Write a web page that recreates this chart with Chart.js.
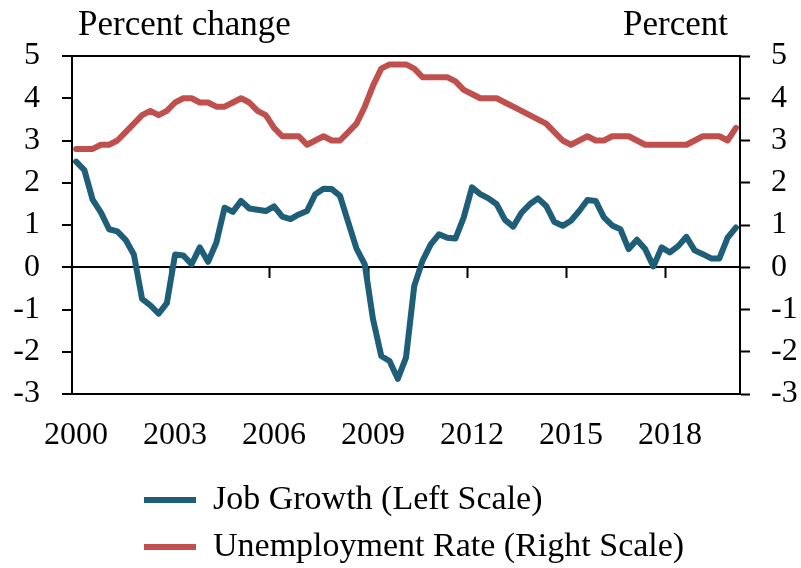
<!DOCTYPE html>
<html>
<head>
<meta charset="utf-8">
<script src="https://cdn.jsdelivr.net/npm/chart.js@4"></script>
<style>
  body { margin: 0; background: #fff; }
</style>
</head>
<body>
<canvas id="chart" width="801" height="568"></canvas>
<script>
// quarterly, 2000 Q1 .. 2020 Q1
const startYear = 2000;
const quarterCount = 81;

const jobGrowth = [
  2.5, 2.3, 1.6, 1.3, 0.9, 0.85, 0.65, 0.3, -0.75, -0.9,
  -1.1, -0.85, 0.3, 0.28, 0.07, 0.47, 0.13, 0.58, 1.41, 1.31,
  1.57, 1.39, 1.36, 1.33, 1.44, 1.2, 1.14, 1.25, 1.33, 1.73,
  1.86, 1.85, 1.69, 1.06, 0.44, 0.07, -1.23, -2.1, -2.22, -2.64,
  -2.14, -0.44, 0.15, 0.54, 0.78, 0.7, 0.68, 1.18, 1.89, 1.73,
  1.63, 1.49, 1.12, 0.96, 1.29, 1.49, 1.63, 1.45, 1.07, 0.98,
  1.1, 1.33, 1.59, 1.57, 1.18, 0.99, 0.9, 0.43, 0.65, 0.43,
  0.02, 0.47, 0.35, 0.5, 0.72, 0.4, 0.31, 0.21, 0.21, 0.7,
  0.94
];

const unemployment = [
  2.8, 2.8, 2.8, 2.9, 2.9, 3.0, 3.2, 3.4, 3.6, 3.7,
  3.6, 3.7, 3.9, 4.0, 4.0, 3.9, 3.9, 3.8, 3.8, 3.9,
  4.0, 3.9, 3.7, 3.6, 3.3, 3.1, 3.1, 3.1, 2.9, 3.0,
  3.1, 3.0, 3.0, 3.2, 3.4, 3.8, 4.3, 4.7, 4.8, 4.8,
  4.8, 4.7, 4.5, 4.5, 4.5, 4.5, 4.4, 4.2, 4.1, 4.0,
  4.0, 4.0, 3.9, 3.8, 3.7, 3.6, 3.5, 3.4, 3.2, 3.0,
  2.9, 3.0, 3.1, 3.0, 3.0, 3.1, 3.1, 3.1, 3.0, 2.9,
  2.9, 2.9, 2.9, 2.9, 2.9, 3.0, 3.1, 3.1, 3.1, 3.0,
  3.3
];

const leftTitle = 'Percent change';
const rightTitle = 'Percent';
const yMin = -3;
const yMax = 5;

const quarters = [];
for (let i = 0; i < quarterCount; i++) {
  quarters.push((startYear + Math.floor(i / 4)) + ' Q' + (i % 4 + 1));
}

Chart.defaults.font.family = "'Liberation Serif', 'Times New Roman', serif";
Chart.defaults.color = '#000';

const BLUE = '#1f5e79';
const RED = '#c0504d';

// titles above the axes, and legend rows pushed to the left like the original
const frame = {
  id: 'frame',
  afterLayout(chart) {
    chart.legend.left = 131;
    chart.legend.top = 470;
  },
  afterDraw(chart) {
    const ctx = chart.ctx;
    ctx.save();
    ctx.fillStyle = '#000';
    ctx.font = "35px 'Liberation Serif'";
    ctx.textBaseline = 'alphabetic';
    ctx.textAlign = 'left';
    ctx.fillText(leftTitle, 78, 35);
    ctx.textAlign = 'right';
    ctx.fillText(rightTitle, 728, 35);
    ctx.restore();
  }
};

new Chart(document.getElementById('chart'), {
  type: 'line',
  data: {
    labels: quarters,
    datasets: [
      {
        label: 'Job Growth (Left Scale)',
        data: jobGrowth,
        yAxisID: 'y',
        borderColor: BLUE,
        backgroundColor: BLUE,
        borderWidth: 6,
        borderCapStyle: 'round',
        borderJoinStyle: 'round',
        pointRadius: 0,
        tension: 0
      },
      {
        label: 'Unemployment Rate (Right Scale)',
        data: unemployment,
        yAxisID: 'y1',
        borderColor: RED,
        backgroundColor: RED,
        borderWidth: 6,
        borderCapStyle: 'round',
        borderJoinStyle: 'round',
        pointRadius: 0,
        tension: 0
      }
    ]
  },
  options: {
    responsive: false,
    animation: false,
    layout: { padding: { top: 56, left: 0, right: 0, bottom: 0 } },
    plugins: {
      legend: {
        position: 'bottom',
        align: 'start',
        labels: {
          usePointStyle: true,
          pointStyle: 'line',
          pointStyleWidth: 52,
          padding: 13,
          font: { size: 34 }
        }
      },
      tooltip: { enabled: false }
    },
    scales: {
      x: {
        type: 'category',
        offset: true,
        grid: { offset: true, drawOnChartArea: false, drawTicks: false },
        border: { color: '#000', width: 2 },
        ticks: {
          autoSkip: false,
          maxRotation: 0,
          padding: 22,
          font: { size: 32 },
          callback: function (value, index) {
            return index % 12 === 0 ? this.getLabelForValue(value).slice(0, 4) : '';
          }
        },
        afterFit: s => { s.height = 70; }
      },
      x2: {
        type: 'category',
        labels: quarters,
        position: { y: 0 },
        offset: true,
        grid: {
          offset: true,
          drawOnChartArea: false,
          tickLength: 10,
          tickWidth: 2,
          tickColor: c => (c.index > 0 && c.index % 12 === 0) ? '#000' : 'rgba(0,0,0,0)'
        },
        border: { color: '#000', width: 2 },
        ticks: { display: false, autoSkip: false }
      },
      y: {
        position: 'left',
        min: yMin,
        max: yMax,
        ticks: { stepSize: 1, padding: 22, font: { size: 32 } },
        grid: {
          color: c => (c.tick && c.tick.value === yMax) ? '#000' : 'rgba(0,0,0,0)',
          lineWidth: 2,
          tickColor: '#000',
          tickLength: 10,
          tickWidth: 2
        },
        border: { color: '#000', width: 2 },
        afterFit: s => { s.width = 72; }
      },
      y1: {
        position: 'right',
        min: yMin,
        max: yMax,
        ticks: { stepSize: 1, padding: 21, font: { size: 32 } },
        grid: {
          drawOnChartArea: false,
          tickColor: '#000',
          tickLength: 10,
          tickWidth: 2
        },
        border: { color: '#000', width: 2 },
        afterFit: s => { s.width = 61; }
      }
    }
  },
  plugins: [frame]
});
</script>
</body>
</html>
